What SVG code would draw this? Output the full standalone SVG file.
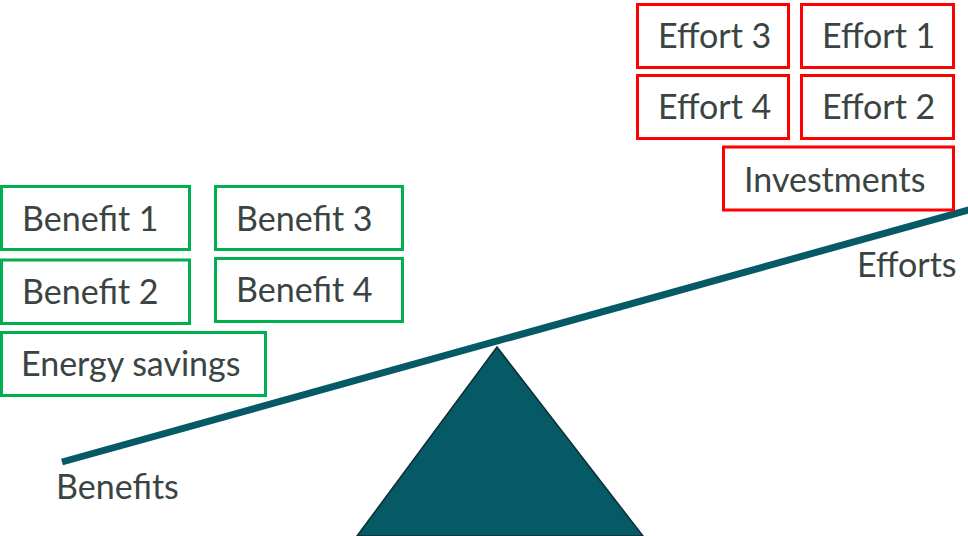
<svg xmlns="http://www.w3.org/2000/svg" width="968" height="536" viewBox="0 0 968 536">
<style>
text{font-family:Lato,"Open Sans",sans-serif;font-size:34px;fill:#3A4442}
.g{fill:#fff;stroke:#00B050;stroke-width:3}
.r{fill:#fff;stroke:#FF0000;stroke-width:3}
</style>
<rect width="968" height="536" fill="#fff"/>
<g id="connectors">
<line x1="62" y1="462" x2="972" y2="209" stroke="#065A66" stroke-width="7"/>
</g>
<g id="fulcrum"><polygon points="497,347 357,536 643,536" fill="#065A66" stroke="#0B2E33" stroke-width="1.5"/></g>
<g id="effort3"><rect class="r" x="637.5" y="4.5" width="151" height="63"/><text x="658" y="48">Effort 3</text></g>
<g id="effort1"><rect class="r" x="801.5" y="4.5" width="152" height="63"/><text x="822" y="48">Effort 1</text></g>
<g id="effort4"><rect class="r" x="637.5" y="75.5" width="151" height="63"/><text x="658" y="119">Effort 4</text></g>
<g id="effort2"><rect class="r" x="801.5" y="75.5" width="152" height="63"/><text x="822" y="119">Effort 2</text></g>
<g id="investments"><rect class="r" x="723.5" y="147" width="230" height="63"/><text x="744" y="192">Investments</text></g>
<g id="benefit1"><rect class="g" x="1.5" y="186.5" width="188" height="63"/><text x="22" y="231">Benefit 1</text></g>
<g id="benefit3"><rect class="g" x="215.5" y="186.5" width="187" height="63"/><text x="236" y="231">Benefit 3</text></g>
<g id="benefit2"><rect class="g" x="1.5" y="260" width="188" height="63.5"/><text x="22" y="304">Benefit 2</text></g>
<g id="benefit4"><rect class="g" x="215.5" y="258.5" width="187" height="63"/><text x="236" y="302">Benefit 4</text></g>
<g id="energy"><rect class="g" x="1.5" y="332.5" width="264" height="63"/><text x="21" y="376">Energy savings</text></g>
<g id="labels">
<text x="857" y="277">Efforts</text>
<text x="56" y="499">Benefits</text>
</g>
</svg>
